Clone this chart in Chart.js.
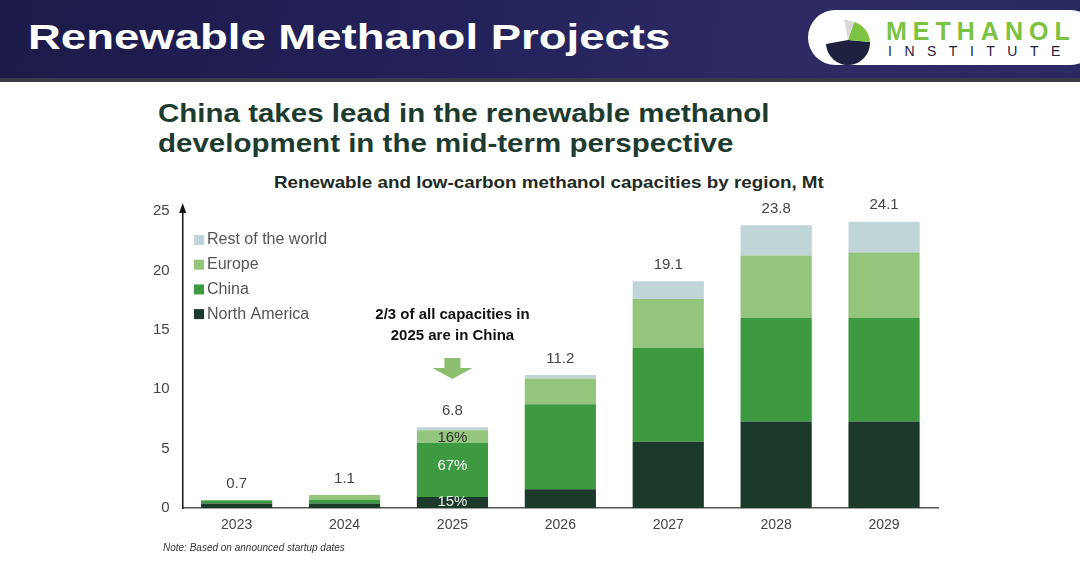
<!DOCTYPE html>
<html>
<head>
<meta charset="utf-8">
<script src="https://cdn.jsdelivr.net/npm/chart.js@4.4.1/dist/chart.umd.min.js"></script>
<style>
  html, body { margin: 0; padding: 0; background: #fff; }
  body { width: 1080px; height: 565px; position: relative; overflow: hidden; font-family: "Liberation Sans", Arial, sans-serif; }
  .band { position: absolute; left: 0; top: 0; width: 1080px; height: 78px;
          background: linear-gradient(100deg, #1c1a48 0%, #24225a 45%, #2e2b64 70%, #2b2962 100%); }
  .band-line { position: absolute; left: 0; top: 78px; width: 1080px; height: 4px; background: #3a3a4a; }
  .band h1 { position: absolute; left: 28px; top: 17px; margin: 0; color: #fff; font-size: 35px; font-weight: bold;
             transform: scaleX(1.3); transform-origin: left top; white-space: nowrap; }
  .logo { position: absolute; left: 808px; top: 10px; width: 290px; height: 55px; background: #fff; border-radius: 28px; }
  .logo .t1 { position: absolute; left: 78px; top: 7px; color: #7cc243; font-weight: bold; font-size: 25px; letter-spacing: 6px; }
  .logo .t2 { position: absolute; left: 80px; top: 33px; color: #1e2040; font-size: 14px; letter-spacing: 12.5px; }
  .headline { position: absolute; left: 158px; top: 98px; margin: 0; color: #1d3b2e; font-size: 25px; line-height: 30px; font-weight: bold;
              transform: scaleX(1.18); transform-origin: left top; white-space: nowrap; }
  .subtitle { position: absolute; left: 274px; top: 173px; color: #1e2a24; font-size: 16.5px; font-weight: bold;
              transform: scaleX(1.14); transform-origin: left top; white-space: nowrap; }
  .note { position: absolute; left: 163px; top: 542px; font-size: 10px; font-style: italic; color: #333; }
  #wrap { position: absolute; left: 0; top: 0; width: 1080px; height: 565px; }
</style>
</head>
<body>
<div class="band">
  <h1>Renewable Methanol Projects</h1>
  <div class="logo">
    <svg width="70" height="55" style="position:absolute;left:6px;top:0">
      <path d="M12 34 A 22 22 0 0 0 56 32 L 34 30 Z" fill="#1e2040"/>
      <path d="M40 12 A 22 22 0 0 1 56 32 L 34 30 Z" fill="#7cc243"/>
      <path d="M30 9 L 40 12 L 34 30 Z" fill="#d9d9d9"/>
    </svg>
    <div class="t1">METHANOL</div>
    <div class="t2">INSTITUTE</div>
  </div>
</div>
<div class="band-line"></div>
<div class="headline">China takes lead in the renewable methanol<br>development in the mid-term perspective</div>
<div class="subtitle">Renewable and low-carbon methanol capacities by region, Mt</div>
<div id="wrap"><canvas id="chart"></canvas></div>
<div class="note">Note: Based on announced startup dates</div>

<script>
const years = ['2023', '2024', '2025', '2026', '2027', '2028', '2029'];
const northAmerica = [0.4, 0.4, 0.95, 1.6, 5.6, 7.3, 7.3];
const china = [0.25, 0.3, 4.55, 7.15, 7.9, 8.7, 8.7];
const europe = [0.05, 0.4, 1.05, 2.15, 4.1, 5.25, 5.5];
const restOfWorld = [0, 0, 0.25, 0.3, 1.5, 2.55, 2.6];
const totals = ['0.7', '1.1', '6.8', '11.2', '19.1', '23.8', '24.1'];
const yTicks = [0, 5, 10, 15, 20, 25];
const shares2025 = ['15%', '67%', '16%'];

const colors = {
    na: '#1b3a2c',
    china: '#3d9a40',
    europe: '#94c57c',
    row: '#bfd5d7'
};

const overlayPlugin = {
    id: 'overlay',
    afterDatasetsDraw(chart) {
        const ctx = chart.ctx;
        const area = chart.chartArea;
        const x = chart.scales.x;
        const y = chart.scales.y;

        // arrow on top of the y axis
        ctx.save();
        ctx.fillStyle = '#111';
        ctx.beginPath();
        ctx.moveTo(area.left, area.top - 8);
        ctx.lineTo(area.left - 3.5, area.top + 2);
        ctx.lineTo(area.left + 3.5, area.top + 2);
        ctx.closePath();
        ctx.fill();

        // totals above bars
        ctx.font = '15px "Liberation Sans", Arial, sans-serif';
        ctx.fillStyle = '#444';
        ctx.textAlign = 'center';
        ctx.textBaseline = 'bottom';
        years.forEach((yr, i) => {
            const sum = northAmerica[i] + china[i] + europe[i] + restOfWorld[i];
            ctx.fillText(totals[i], x.getPixelForValue(i), y.getPixelForValue(sum) - 9);
        });

        // shares inside the 2025 bar
        const cx = x.getPixelForValue(2);
        ctx.textBaseline = 'middle';
        ctx.font = '15px "Liberation Sans", Arial, sans-serif';
        ctx.fillStyle = '#e8efe8';
        ctx.fillText(shares2025[0], cx, y.getPixelForValue(northAmerica[2] / 2) - 1);
        ctx.fillStyle = '#ffffff';
        ctx.fillText(shares2025[1], cx, y.getPixelForValue(northAmerica[2] + china[2] / 2) - 4);
        ctx.fillStyle = '#333';
        ctx.fillText(shares2025[2], cx, y.getPixelForValue(northAmerica[2] + china[2] + europe[2] / 2) + 1);

        // callout
        ctx.font = 'bold 15px "Liberation Sans", Arial, sans-serif';
        ctx.fillStyle = '#111';
        ctx.fillText('2/3 of all capacities in', cx, 315);
        ctx.fillText('2025 are in China', cx, 336);
        ctx.fillStyle = '#8cc06e';
        ctx.beginPath();
        ctx.moveTo(cx - 8, 358);
        ctx.lineTo(cx + 8, 358);
        ctx.lineTo(cx + 8, 368);
        ctx.lineTo(cx + 20, 368);
        ctx.lineTo(cx, 379);
        ctx.lineTo(cx - 20, 368);
        ctx.lineTo(cx - 8, 368);
        ctx.closePath();
        ctx.fill();

        // legend
        const items = chart.data.datasets.slice().reverse();
        ctx.font = '16px "Liberation Sans", Arial, sans-serif';
        ctx.textAlign = 'left';
        items.forEach((ds, k) => {
            const ly = 240 + k * 24.7;
            ctx.fillStyle = ds.backgroundColor;
            ctx.fillRect(194, ly - 5, 10, 10);
            ctx.fillStyle = '#555';
            ctx.fillText(ds.label, 207, ly);
        });
        ctx.restore();
    }
};

new Chart(document.getElementById('chart'), {
    type: 'bar',
    data: {
        labels: years,
        datasets: [
            { label: 'North America', data: northAmerica, backgroundColor: colors.na },
            { label: 'China', data: china, backgroundColor: colors.china },
            { label: 'Europe', data: europe, backgroundColor: colors.europe },
            { label: 'Rest of the world', data: restOfWorld, backgroundColor: colors.row }
        ]
    },
    options: {
        responsive: true,
        maintainAspectRatio: false,
        animation: false,
        layout: { padding: { left: 148, right: 142, top: 211, bottom: 30 } },
        datasets: { bar: { categoryPercentage: 0.66, barPercentage: 1 } },
        plugins: {
            legend: { display: false },
            tooltip: { enabled: false }
        },
        scales: {
            x: {
                stacked: true,
                grid: { display: false },
                ticks: { color: '#444', font: { size: 14, family: '"Liberation Sans", Arial, sans-serif' }, padding: 1 },
                border: { color: '#555', width: 1.5 }
            },
            y: {
                stacked: true,
                min: 0,
                max: 25,
                afterBuildTicks(axis) {
                    axis.ticks = yTicks.map(v => ({ value: v }));
                },
                grid: { display: false },
                ticks: { color: '#444', font: { size: 15, family: '"Liberation Sans", Arial, sans-serif' }, padding: 5 },
                border: { color: '#111', width: 1.5 }
            }
        }
    },
    plugins: [overlayPlugin]
});
</script>
</body>
</html>
